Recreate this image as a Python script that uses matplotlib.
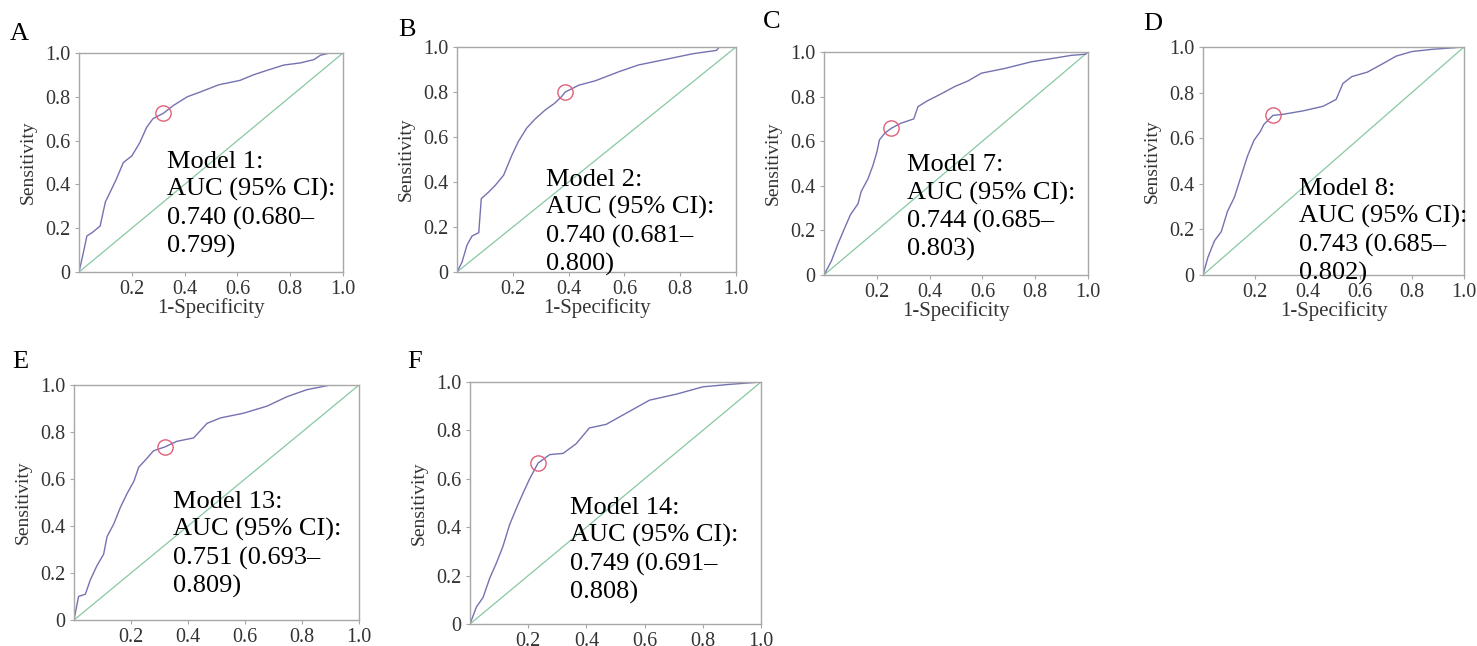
import matplotlib

matplotlib.use("Agg")

import matplotlib.pyplot as plt

plt.rcParams["font.family"] = ["Liberation Serif", "DejaVu Serif"]

# ROC curves (1-specificity, sensitivity)
fpr_a = [0, 0.014, 0.03, 0.05, 0.08, 0.10, 0.124, 0.14, 0.168, 0.20, 0.23, 0.256, 0.28,
         0.32, 0.357, 0.41, 0.455, 0.53, 0.61, 0.66, 0.71, 0.776, 0.84, 0.89, 0.915, 0.95, 1.0]
tpr_a = [0, 0.074, 0.165, 0.18, 0.21, 0.32, 0.38, 0.42, 0.50, 0.53, 0.59, 0.66, 0.70,
         0.725, 0.76, 0.80, 0.82, 0.855, 0.875, 0.90, 0.92, 0.945, 0.955, 0.97, 0.99, 1.0, 1.0]

fpr_b = [0, 0.018, 0.036, 0.054, 0.078, 0.087, 0.113, 0.137, 0.167, 0.197, 0.22, 0.25, 0.28,
         0.316, 0.35, 0.375, 0.388, 0.436, 0.496, 0.58, 0.65, 0.76, 0.845, 0.93, 0.94, 1.0]
tpr_b = [0, 0.044, 0.12, 0.16, 0.175, 0.326, 0.355, 0.385, 0.43, 0.52, 0.58, 0.64, 0.68,
         0.72, 0.75, 0.78, 0.80, 0.83, 0.85, 0.89, 0.92, 0.948, 0.97, 0.985, 1.0, 1.0]

fpr_c = [0, 0.028, 0.053, 0.078, 0.10, 0.129, 0.141, 0.166, 0.185, 0.20, 0.21, 0.23, 0.255,
         0.29, 0.34, 0.356, 0.39, 0.44, 0.495, 0.545, 0.596, 0.684, 0.785, 0.86, 0.937, 0.99, 1.0]
tpr_c = [0, 0.063, 0.14, 0.21, 0.27, 0.32, 0.375, 0.43, 0.49, 0.55, 0.606, 0.636, 0.658,
         0.68, 0.70, 0.755, 0.78, 0.81, 0.845, 0.87, 0.905, 0.926, 0.956, 0.97, 0.985, 0.99, 1.0]

fpr_d = [0, 0.019, 0.044, 0.07, 0.094, 0.12, 0.145, 0.17, 0.195, 0.22, 0.233, 0.268, 0.308,
         0.384, 0.46, 0.51, 0.536, 0.57, 0.63, 0.686, 0.74, 0.80, 0.88, 1.0]
tpr_d = [0, 0.078, 0.15, 0.19, 0.28, 0.34, 0.43, 0.52, 0.59, 0.63, 0.66, 0.70, 0.705,
         0.72, 0.74, 0.77, 0.84, 0.87, 0.89, 0.925, 0.96, 0.98, 0.99, 1.0]

fpr_e = [0, 0.016, 0.04, 0.057, 0.08, 0.104, 0.116, 0.14, 0.163, 0.187, 0.21, 0.227, 0.25,
         0.279, 0.32, 0.36, 0.42, 0.467, 0.514, 0.595, 0.677, 0.747, 0.817, 0.90, 1.0]
tpr_e = [0, 0.10, 0.11, 0.17, 0.23, 0.28, 0.355, 0.41, 0.48, 0.54, 0.59, 0.65, 0.68,
         0.72, 0.737, 0.76, 0.775, 0.837, 0.86, 0.88, 0.91, 0.95, 0.98, 1.0, 1.0]

fpr_f = [0, 0.022, 0.045, 0.068, 0.09, 0.113, 0.136, 0.16, 0.182, 0.205, 0.234, 0.274, 0.32,
         0.365, 0.41, 0.468, 0.55, 0.617, 0.71, 0.80, 0.89, 1.0]
tpr_f = [0, 0.07, 0.11, 0.19, 0.25, 0.32, 0.41, 0.48, 0.54, 0.60, 0.665, 0.70, 0.705,
         0.745, 0.81, 0.825, 0.88, 0.925, 0.95, 0.98, 0.99, 1.0]

# optimal cut-off points (red circles)
cut_a = (0.32, 0.725)
cut_b = (0.388, 0.80)
cut_c = (0.255, 0.658)
cut_d = (0.268, 0.70)
cut_e = (0.32, 0.737)
cut_f = (0.234, 0.665)

panel_letters = ["A", "B", "C", "D", "E", "F"]
model_names = ["Model 1", "Model 2", "Model 7", "Model 8", "Model 13", "Model 14"]
auc_values = ["0.740", "0.740", "0.744", "0.743", "0.751", "0.749"]
ci_low = ["0.680", "0.681", "0.685", "0.685", "0.693", "0.691"]
ci_high = ["0.799", "0.800", "0.803", "0.802", "0.809", "0.808"]

tick_vals = [0, 0.2, 0.4, 0.6, 0.8, 1.0]
tick_text = ["0", "0.2", "0.4", "0.6", "0.8", "1.0"]

W, H = 1477, 646
# axes boxes in pixels: left, top, right, bottom
boxes = [(79, 53, 343, 272), (457, 47, 736, 272), (824, 52, 1088, 275),
         (1203, 47, 1464, 275), (74, 385, 359, 620), (470, 382, 761, 624)]
# text anchor: left edge and baseline of the last line (data coords)
text_pos = [(0.333, 0.089), (0.32, 0.006), (0.314, 0.085), (0.366, -0.02),
            (0.347, 0.117), (0.344, 0.105)]
letter_pos = [(10, 40), (398, 36), (763, 28), (1143, 30), (12, 368), (407, 368)]
show_xlabel = [True, True, True, True, False, False]

curves = [(fpr_a, tpr_a, cut_a), (fpr_b, tpr_b, cut_b), (fpr_c, tpr_c, cut_c),
          (fpr_d, tpr_d, cut_d), (fpr_e, tpr_e, cut_e), (fpr_f, tpr_f, cut_f)]

CURVE = "#7472b0"
DIAG = "#86c9a2"
SPINE = "#a8a8a8"
RED = "#e0607a"

fig = plt.figure(figsize=(W / 100, H / 100), dpi=100)

for i, (fpr, tpr, cut) in enumerate(curves):
    l, t, r, b = boxes[i]
    ax = fig.add_axes([l / W, 1 - b / H, (r - l) / W, (b - t) / H])
    ax.plot([0, 1], [0, 1], color=DIAG, lw=0.9)
    ax.plot(fpr, tpr, color=CURVE, lw=1.0)
    ax.plot(cut[0], cut[1], "o", ms=11, mfc="none", mec=RED, mew=1.0)
    ax.set_xlim(0, 1)
    ax.set_ylim(0, 1)
    ax.set_yticks(tick_vals)
    ax.set_yticklabels(tick_text)
    ax.set_xticks(tick_vals[1:])
    ax.set_xticklabels(tick_text[1:])
    ax.tick_params(direction="out", length=3, width=0.8, color=SPINE,
                   labelsize=14.5, labelcolor="#333333", pad=3)
    for s in ax.spines.values():
        s.set_color(SPINE)
        s.set_linewidth(1.0)
    ax.set_ylabel("Sensitivity", fontsize=14, color="#333333", labelpad=6)
    if show_xlabel[i]:
        ax.set_xlabel("1-Specificity", fontsize=15, color="#333333", labelpad=-1)
    tx, ty = text_pos[i]
    label = (f"{model_names[i]}:\nAUC (95% CI):\n{auc_values[i]} ({ci_low[i]}\u2013\n"
             f"{ci_high[i]})")
    ax.text(tx, ty, label, fontsize=19, ha="left", va="baseline",
            linespacing=1.3, color="black", clip_on=False)
    lx, ly = letter_pos[i]
    fig.text(lx / W, 1 - ly / H, panel_letters[i], fontsize=19, ha="left",
             va="baseline")

fig.savefig("out.png", dpi=100)
